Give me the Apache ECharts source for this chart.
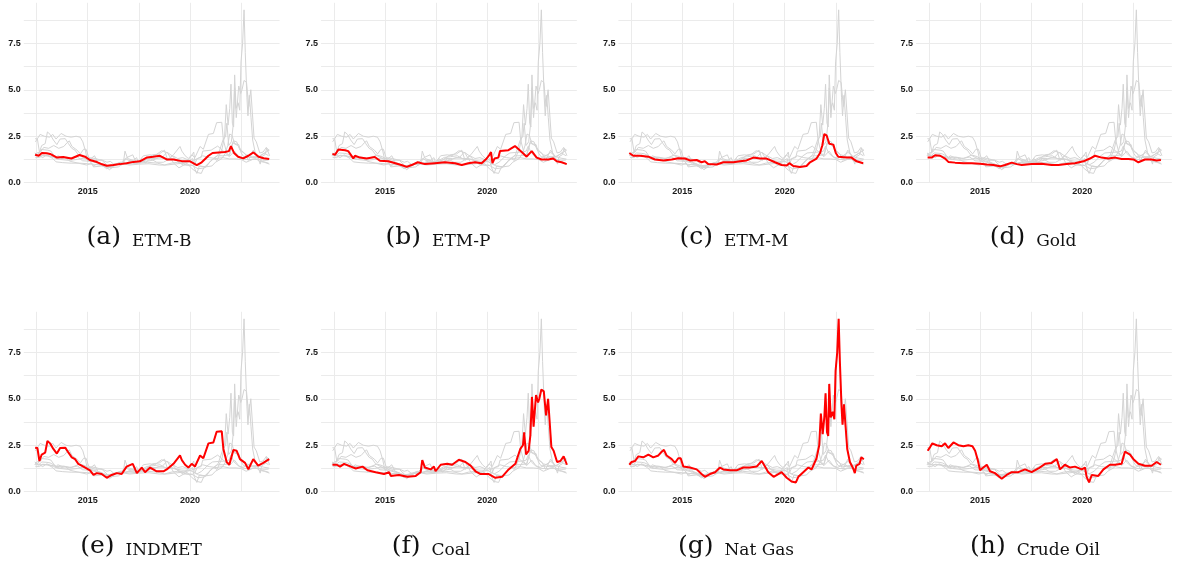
<!DOCTYPE html>
<html><head><meta charset="utf-8">
<script src="https://cdn.jsdelivr.net/npm/echarts@6/dist/echarts.min.js"></script>
<style>html,body{margin:0;padding:0;background:#fff}#c{width:1183px;height:567px}</style>
</head><body><div id="c"></div>
<script>
// ---- data (decimal year, value) ----
const seriesNames = ['ETM-B','ETM-P','ETM-M','Gold','INDMET','Coal','Nat Gas','Crude Oil'];
const panelLabels = ['(a)','(b)','(c)','(d)','(e)','(f)','(g)','(h)'];
const xTickLabels = [2015, 2020];
const yTickLabels = [0, 2.5, 5, 7.5];

const etmB = [[2012.43,1.5],[2012.6,1.45],[2012.76,1.6],[2013.0,1.58],[2013.16,1.55],[2013.5,1.35],[2013.8,1.38],[2014.2,1.3],[2014.6,1.49],[2014.87,1.4],[2015.1,1.22],[2015.45,1.11],[2015.7,0.99],[2015.93,0.91],[2016.25,0.95],[2016.58,1.0],[2016.9,1.05],[2017.23,1.12],[2017.55,1.15],[2017.9,1.36],[2018.2,1.4],[2018.53,1.45],[2018.86,1.25],[2019.19,1.25],[2019.6,1.16],[2020.0,1.15],[2020.33,0.95],[2020.57,1.1],[2020.9,1.45],[2021.1,1.6],[2021.4,1.63],[2021.7,1.65],[2021.9,1.7],[2022.0,1.97],[2022.15,1.6],[2022.35,1.4],[2022.6,1.31],[2022.85,1.45],[2023.1,1.63],[2023.35,1.4],[2023.6,1.32],[2023.87,1.27]];
const etmP = [[2012.43,1.55],[2012.56,1.5],[2012.72,1.79],[2013.05,1.75],[2013.2,1.7],[2013.45,1.31],[2013.53,1.45],[2013.78,1.35],[2014.1,1.3],[2014.5,1.38],[2014.75,1.18],[2015.16,1.15],[2015.5,1.05],[2015.8,0.95],[2016.06,0.85],[2016.3,0.95],[2016.6,1.1],[2016.95,1.0],[2017.44,1.05],[2017.93,1.1],[2018.42,1.05],[2018.75,0.95],[2019.07,1.05],[2019.4,1.1],[2019.72,1.05],[2019.97,1.3],[2020.1,1.5],[2020.18,1.65],[2020.25,1.05],[2020.35,1.3],[2020.54,1.35],[2020.62,1.7],[2021.03,1.75],[2021.35,1.97],[2021.68,1.65],[2021.92,1.4],[2022.17,1.7],[2022.41,1.35],[2022.65,1.25],[2022.98,1.25],[2023.22,1.3],[2023.39,1.15],[2023.63,1.1],[2023.88,1.0]];
const etmM = [[2012.41,1.6],[2012.6,1.45],[2012.93,1.45],[2013.34,1.4],[2013.66,1.25],[2014.07,1.2],[2014.48,1.25],[2014.8,1.32],[2015.13,1.3],[2015.37,1.2],[2015.7,1.22],[2015.94,1.1],[2016.1,1.15],[2016.27,1.0],[2016.68,0.98],[2017.0,1.1],[2017.5,1.1],[2017.82,1.15],[2018.14,1.2],[2018.47,1.35],[2018.8,1.3],[2019.12,1.3],[2019.53,1.1],[2019.85,0.95],[2020.1,0.92],[2020.23,1.05],[2020.42,0.9],[2020.75,0.85],[2021.07,0.9],[2021.24,1.1],[2021.56,1.3],[2021.73,1.6],[2021.84,2.0],[2021.94,2.62],[2022.05,2.55],[2022.18,2.1],[2022.38,2.05],[2022.5,1.6],[2022.62,1.4],[2023.03,1.35],[2023.27,1.35],[2023.52,1.15],[2023.84,1.05]];
const gold = [[2012.44,1.35],[2012.64,1.35],[2012.8,1.48],[2013.05,1.45],[2013.29,1.3],[2013.45,1.12],[2013.78,1.08],[2014.19,1.05],[2014.6,1.05],[2015.0,1.02],[2015.33,0.98],[2015.65,0.95],[2015.98,0.88],[2016.22,0.95],[2016.55,1.08],[2016.8,1.0],[2017.04,0.95],[2017.52,1.0],[2018.0,1.02],[2018.5,0.95],[2018.83,0.95],[2019.23,1.0],[2019.64,1.05],[2020.05,1.15],[2020.37,1.3],[2020.62,1.45],[2020.94,1.35],[2021.27,1.3],[2021.6,1.35],[2021.92,1.28],[2022.25,1.28],[2022.5,1.25],[2022.74,1.1],[2023.06,1.25],[2023.39,1.25],[2023.63,1.2],[2023.84,1.22]];
const indmet = [[2012.43,2.37],[2012.54,2.35],[2012.64,1.65],[2012.75,2.0],[2012.92,2.1],[2013.03,2.73],[2013.16,2.6],[2013.32,2.3],[2013.49,2.05],[2013.65,2.35],[2013.9,2.37],[2014.06,2.1],[2014.22,1.85],[2014.38,1.75],[2014.54,1.5],[2014.79,1.35],[2015.11,1.15],[2015.28,0.9],[2015.44,1.0],[2015.68,0.95],[2015.93,0.75],[2016.17,0.9],[2016.42,1.0],[2016.66,0.95],[2016.9,1.35],[2017.2,1.5],[2017.4,1.0],[2017.64,1.3],[2017.8,1.05],[2018.05,1.3],[2018.37,1.1],[2018.7,1.1],[2018.86,1.2],[2019.19,1.5],[2019.51,1.95],[2019.6,1.7],[2019.76,1.45],[2019.92,1.3],[2020.08,1.5],[2020.24,1.35],[2020.49,1.95],[2020.65,1.8],[2020.9,2.6],[2021.14,2.65],[2021.3,3.23],[2021.55,3.25],[2021.63,2.3],[2021.79,1.6],[2021.92,1.45],[2022.12,2.25],[2022.28,2.2],[2022.44,1.75],[2022.69,1.55],[2022.85,1.2],[2023.09,1.75],[2023.33,1.4],[2023.58,1.55],[2023.87,1.75]];
const coal = [[2012.43,1.45],[2012.64,1.45],[2012.8,1.35],[2013.0,1.5],[2013.33,1.35],[2013.57,1.25],[2013.9,1.35],[2014.14,1.15],[2014.54,1.05],[2014.95,0.95],[2015.2,1.05],[2015.28,0.85],[2015.68,0.9],[2016.09,0.8],[2016.5,0.85],[2016.74,1.05],[2016.82,1.7],[2016.95,1.3],[2017.23,1.2],[2017.39,1.35],[2017.47,1.1],[2017.72,1.45],[2018.04,1.5],[2018.28,1.45],[2018.61,1.72],[2018.93,1.6],[2019.18,1.4],[2019.42,1.1],[2019.67,0.95],[2020.07,0.95],[2020.39,0.75],[2020.72,0.8],[2021.04,1.2],[2021.37,1.5],[2021.61,2.3],[2021.74,2.5],[2021.8,3.2],[2021.89,2.0],[2022.02,2.2],[2022.1,3.0],[2022.18,5.1],[2022.26,3.5],[2022.38,5.2],[2022.48,4.8],[2022.54,5.0],[2022.64,5.5],[2022.76,5.4],[2022.87,4.1],[2022.97,5.0],[2023.05,4.9],[2023.13,2.4],[2023.24,2.2],[2023.41,1.6],[2023.57,1.65],[2023.73,1.9],[2023.89,1.45]];
const natGas = [[2012.41,1.45],[2012.52,1.6],[2012.69,1.65],[2012.85,1.9],[2013.09,1.85],[2013.34,2.0],[2013.58,1.85],[2013.83,1.95],[2013.99,2.15],[2014.1,2.25],[2014.23,1.95],[2014.48,1.75],[2014.64,1.55],[2014.8,1.8],[2014.92,1.8],[2015.05,1.35],[2015.37,1.3],[2015.7,1.2],[2015.94,0.95],[2016.1,0.8],[2016.35,0.95],[2016.6,1.05],[2016.84,1.3],[2017.0,1.2],[2017.33,1.15],[2017.65,1.15],[2017.98,1.3],[2018.3,1.3],[2018.63,1.35],[2018.88,1.65],[2019.04,1.35],[2019.2,1.05],[2019.46,0.8],[2019.69,0.95],[2019.85,1.05],[2020.1,0.75],[2020.34,0.55],[2020.55,0.5],[2020.67,0.8],[2020.91,1.05],[2021.16,1.3],[2021.32,1.2],[2021.56,1.8],[2021.69,2.5],[2021.77,4.2],[2021.86,3.1],[2021.94,4.0],[2022.0,5.3],[2022.07,3.2],[2022.13,3.0],[2022.18,5.8],[2022.25,4.0],[2022.35,4.3],[2022.43,3.9],[2022.49,6.5],[2022.57,7.5],[2022.64,9.3],[2022.7,7.0],[2022.78,4.6],[2022.83,3.6],[2022.9,4.7],[2022.98,3.5],[2023.06,2.3],[2023.19,1.6],[2023.35,1.25],[2023.43,1.0],[2023.5,1.4],[2023.66,1.5],[2023.75,1.85],[2023.87,1.75]];
const crudeOil = [[2012.44,2.2],[2012.56,2.4],[2012.67,2.6],[2012.88,2.5],[2013.13,2.45],[2013.29,2.6],[2013.45,2.35],[2013.7,2.65],[2013.94,2.5],[2014.19,2.45],[2014.43,2.5],[2014.63,2.45],[2014.76,2.2],[2014.89,1.7],[2015.0,1.15],[2015.16,1.3],[2015.33,1.45],[2015.49,1.1],[2015.73,1.0],[2016.06,0.7],[2016.3,0.9],[2016.55,1.05],[2016.87,1.05],[2017.2,1.2],[2017.52,1.05],[2017.85,1.25],[2018.18,1.5],[2018.5,1.55],[2018.75,1.75],[2018.91,1.2],[2019.15,1.45],[2019.4,1.3],[2019.64,1.35],[2019.97,1.2],[2020.13,1.3],[2020.21,0.8],[2020.33,0.5],[2020.46,0.9],[2020.78,0.85],[2021.03,1.2],[2021.35,1.45],[2021.6,1.45],[2021.92,1.5],[2022.08,2.15],[2022.33,2.0],[2022.5,1.75],[2022.74,1.5],[2023.06,1.4],[2023.39,1.4],[2023.63,1.6],[2023.84,1.45]];

const allSeries = [etmB, etmP, etmM, gold, indmet, coal, natGas, crudeOil];

// ---- layout ----
const colLeft = [23.8, 321.1, 618.4, 916.1];
const rowTop = [2.8, 311.8];
const gridW = 255.75, gridH = 179.9;
const capX = [139, 438, 734, 1033, 141, 431, 736, 1035];
const capY = [236, 545];

const TR = 'rgba(0,0,0,0)', GL = '#ebebeb';
const grids = [], xAxes = [], yAxes = [], series = [], graphics = [];
for (let p = 0; p < 8; p++) {
  const r = Math.floor(p / 4), c = p % 4;
  grids.push({left: colLeft[c], top: rowTop[r], width: gridW, height: gridH, containLabel: false});
  xAxes.push({
    type: 'value', gridIndex: p, min: 2011.875, max: 2024.375, interval: 0.625,
    axisLine: {show: false}, axisTick: {show: false},
    splitLine: {show: true, lineStyle: {color: [TR, GL, TR, TR], width: 1}},
    axisLabel: {margin: 4, fontSize: 9, fontWeight: 'bold', color: '#1a1a1a', fontFamily: 'Liberation Sans',
      formatter: v => xTickLabels.some(t => Math.abs(t - v) < 1e-6) ? String(Math.round(v)) : ''}
  });
  yAxes.push({
    type: 'value', gridIndex: p, min: 0, max: 9.68, interval: 1.25,
    axisLine: {show: false}, axisTick: {show: false},
    splitLine: {show: true, lineStyle: {color: [GL, GL, GL, GL, GL, GL, GL, GL, TR], width: 1}},
    axisLabel: {margin: 3, fontSize: 9, fontWeight: 'bold', color: '#1a1a1a', fontFamily: 'Liberation Sans',
      formatter: v => yTickLabels.some(t => Math.abs(t - v) < 1e-6) ? v.toFixed(1) : ''}
  });
  allSeries.forEach((d, i) => {
    series.push({type: 'line', xAxisIndex: p, yAxisIndex: p, data: d, showSymbol: false, silent: true,
      lineStyle: {color: '#d4d4d4', width: 1}, z: 2});
  });
  series.push({type: 'line', xAxisIndex: p, yAxisIndex: p, data: allSeries[p], showSymbol: false, silent: true,
    lineStyle: {color: '#ff0000', width: 2}, z: 3});
  graphics.push({type: 'text', x: capX[p], y: capY[r], style: {
    text: '{l|' + panelLabels[p] + '}{n|' + seriesNames[p] + '}',
    align: 'center', verticalAlign: 'middle',
    rich: {
      l: {fontFamily: 'DejaVu Serif', fontSize: 25, fill: '#111', padding: [0, 11, 0, 0], verticalAlign: 'bottom', lineHeight: 28},
      n: {fontFamily: 'DejaVu Serif', fontSize: 17, fill: '#111', verticalAlign: 'bottom', lineHeight: 24}
    }
  }});
}

const chart = echarts.init(document.getElementById('c'), null, {renderer: 'canvas'});
chart.setOption({animation: false, backgroundColor: '#fff', grid: grids, xAxis: xAxes, yAxis: yAxes, series: series, graphic: graphics});
</script></body></html>
